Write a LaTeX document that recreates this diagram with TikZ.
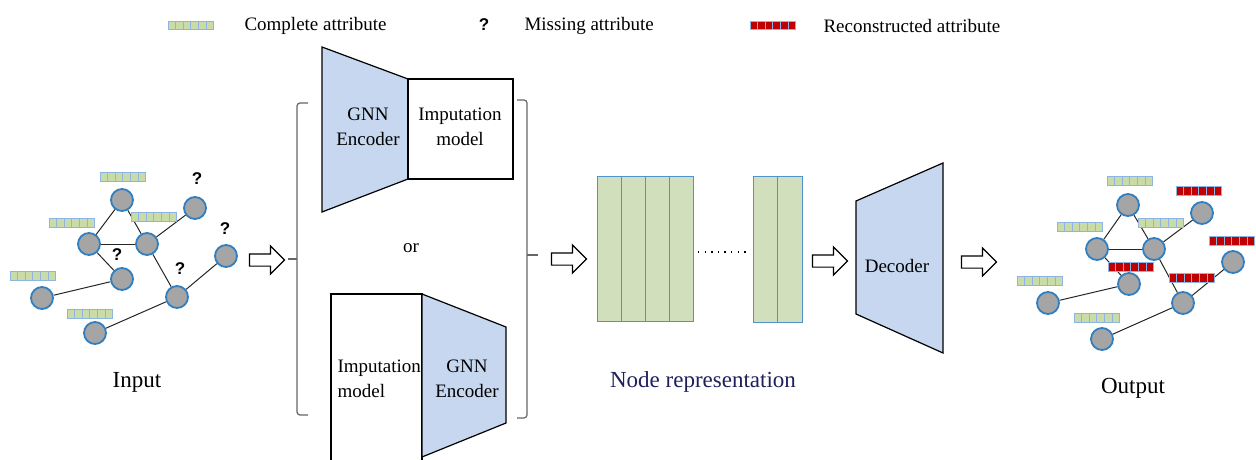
\documentclass[tikz,border=0pt]{standalone}
\usepackage{fontspec}
\setmainfont{Liberation Serif}
\newfontfamily\qfont{Liberation Sans}
\usetikzlibrary{shapes.arrows}

\definecolor{attrgreen}{HTML}{C9DBA6}
\definecolor{cellline}{HTML}{8EB4E3}
\definecolor{attrred}{HTML}{C00000}
\definecolor{encblue}{HTML}{C6D7EF}
\definecolor{nodeblue}{HTML}{2F7FC1}
\definecolor{nodegray}{HTML}{A5A5A5}
\definecolor{repgreen}{HTML}{D1DFBD}
\definecolor{repline}{HTML}{4F93CF}
\definecolor{labelnavy}{HTML}{1F1F5C}

\tikzset{
  gnode/.style={circle,draw=nodeblue,fill=nodegray,line width=1.8pt,minimum size=22pt,inner sep=0pt},
  edge/.style={line width=1pt,draw=black!85},
  cell/.style={draw=cellline,line width=0.8pt},
  qmark/.style={font=\qfont\bfseries\fontsize{17}{17}\selectfont},
  hollow/.style={single arrow,draw,line width=1.2pt,fill=white,inner sep=0pt,inner ysep=5.5pt,
    minimum height=35pt,single arrow head extend=8pt},
  encshape/.style={draw,line width=1.2pt,fill=encblue},
  impshape/.style={draw,line width=1.2pt,fill=white},
  boxtext/.style={font=\fontsize{19}{25}\selectfont},
  legtext/.style={font=\fontsize{19}{22}\selectfont,anchor=west},
  biglabel/.style={font=\fontsize{23}{26}\selectfont},
  repcol/.style={draw=repline,line width=1pt,fill=repgreen},
  bracket/.style={draw=black!60,line width=1.2pt,rounded corners=3pt}
}

% one attribute bar of six cells, top left corner at (#1,#2)
\newcommand{\attrbar}[3]{%
  \foreach \k in {0,...,5}{\draw[cell,fill=#3] (#1+\k*7.6,#2) rectangle ++(7.6,9);}}

\begin{document}
\begin{tikzpicture}[x=1pt,y=-1pt]
\useasboundingbox (0,0) rectangle (1256,460);

% legend
\foreach \k in {0,...,5}{\draw[cell,fill=attrgreen] (168+\k*7.6,21) rectangle ++(7.6,8);}
\node[legtext] (lgc) at (241,26) {Complete attribute};
\node[qmark] (lgq) at (484,25) {?};
\node[legtext] (lgm) at (521,26) {Missing attribute};
\foreach \k in {0,...,5}{\draw[cell,fill=attrred] (750+\k*7.6,21) rectangle ++(7.6,8);}
\node[legtext] (lgr) at (820,26) {Reconstructed attribute};

% input graph
\node[gnode] (a1) at (122,200) {};
\node[gnode] (a2) at (89,244) {};
\node[gnode] (a3) at (147,244) {};
\node[gnode] (a4) at (195,208) {};
\node[gnode] (a5) at (122,279) {};
\node[gnode] (a6) at (226,256) {};
\node[gnode] (a7) at (42,298) {};
\node[gnode] (a8) at (177,297) {};
\node[gnode] (a9) at (95,333) {};
\foreach \u/\v in {a1/a2,a1/a3,a2/a3,a3/a4,a2/a5,a5/a7,a3/a8,a8/a6,a8/a9}
  \draw[edge] (\u) -- (\v);
\attrbar{100}{172}{attrgreen}
\attrbar{49}{218}{attrgreen}
\attrbar{131}{212}{attrgreen}
\attrbar{10}{271}{attrgreen}
\attrbar{67}{309}{attrgreen}
\node[qmark] (qa4) at (197,179) {?};
\node[qmark] (qa6) at (225,229) {?};
\node[qmark] (qa5) at (117,255) {?};
\node[qmark] (qa8) at (180,269) {?};
\node[biglabel] (inlab) at (137,382) {Input};

\node[hollow] (ar1) at (264,260) {};

% the two orders of encoder and imputation model
\draw[encshape] (322,47) -- (408,79) -- (408,179) -- (322,212) -- cycle;
\draw[impshape] (408,79) rectangle (513,179);
\node[boxtext,align=center] (enc1) at (368,127) {GNN\\Encoder};
\node[boxtext,align=center] (imp1) at (460,127) {Imputation\\model};

\node[boxtext] (ortext) at (411,248) {or};

\draw[impshape] (331,461) -- (331,294) -- (422,294) -- (422,461);
\draw[encshape] (422,294) -- (506,327) -- (506,423) -- (422,457) -- cycle;
\node[boxtext,align=left,anchor=west] (imp2) at (334,379) {Imputation\\model};
\node[boxtext,align=center] (enc2) at (467,379) {GNN\\Encoder};

% brackets round the two options
\draw[bracket] (308,103) -- (297,103) -- (297,415) -- (308,415);
\draw[bracket] (297,259) -- (288,259);
\draw[bracket] (517,100) -- (527,100) -- (527,418) -- (517,418);
\draw[bracket] (527,255) -- (538,255);

\node[hollow] (ar2) at (566,259) {};

% node representation
\foreach \i in {0,...,3}
  \draw[repcol] (597+\i*24,176) rectangle ++(24,145);
\foreach \i in {0,1}
  \draw[repcol] (753+\i*24.5,176) rectangle ++(24.5,146);
\draw[line width=1.3pt,dash pattern=on 1.3pt off 5.3pt] (698,252) -- (746,252);
\node[biglabel,text=labelnavy] (replab) at (703,382) {Node representation};

\node[hollow] (ar3) at (827,261) {};

% decoder
\draw[encshape] (856,201) -- (943,163) -- (943,353) -- (856,314) -- cycle;
\node[boxtext] (dec) at (897,266) {Decoder};

\node[hollow] (ar4) at (976,262) {};

% output graph
\node[gnode] (b1) at (1128,205) {};
\node[gnode] (b2) at (1097,249) {};
\node[gnode] (b3) at (1154,249) {};
\node[gnode] (b4) at (1202,213) {};
\node[gnode] (b5) at (1129,284) {};
\node[gnode] (b6) at (1233,262) {};
\node[gnode] (b7) at (1048,303) {};
\node[gnode] (b8) at (1183,303) {};
\node[gnode] (b9) at (1102,339) {};
\foreach \u/\v in {b1/b2,b1/b3,b2/b3,b3/b4,b2/b5,b5/b7,b3/b8,b8/b6,b8/b9}
  \draw[edge] (\u) -- (\v);
\attrbar{1107}{176}{attrgreen}
\attrbar{1057}{222}{attrgreen}
\attrbar{1138}{218}{attrgreen}
\attrbar{1017}{276}{attrgreen}
\attrbar{1074}{313}{attrgreen}
\attrbar{1176}{186}{attrred}
\attrbar{1209}{236}{attrred}
\attrbar{1108}{262}{attrred}
\attrbar{1169}{273}{attrred}
\node[biglabel] (outlab) at (1133,388) {Output};

\end{tikzpicture}
\end{document}
